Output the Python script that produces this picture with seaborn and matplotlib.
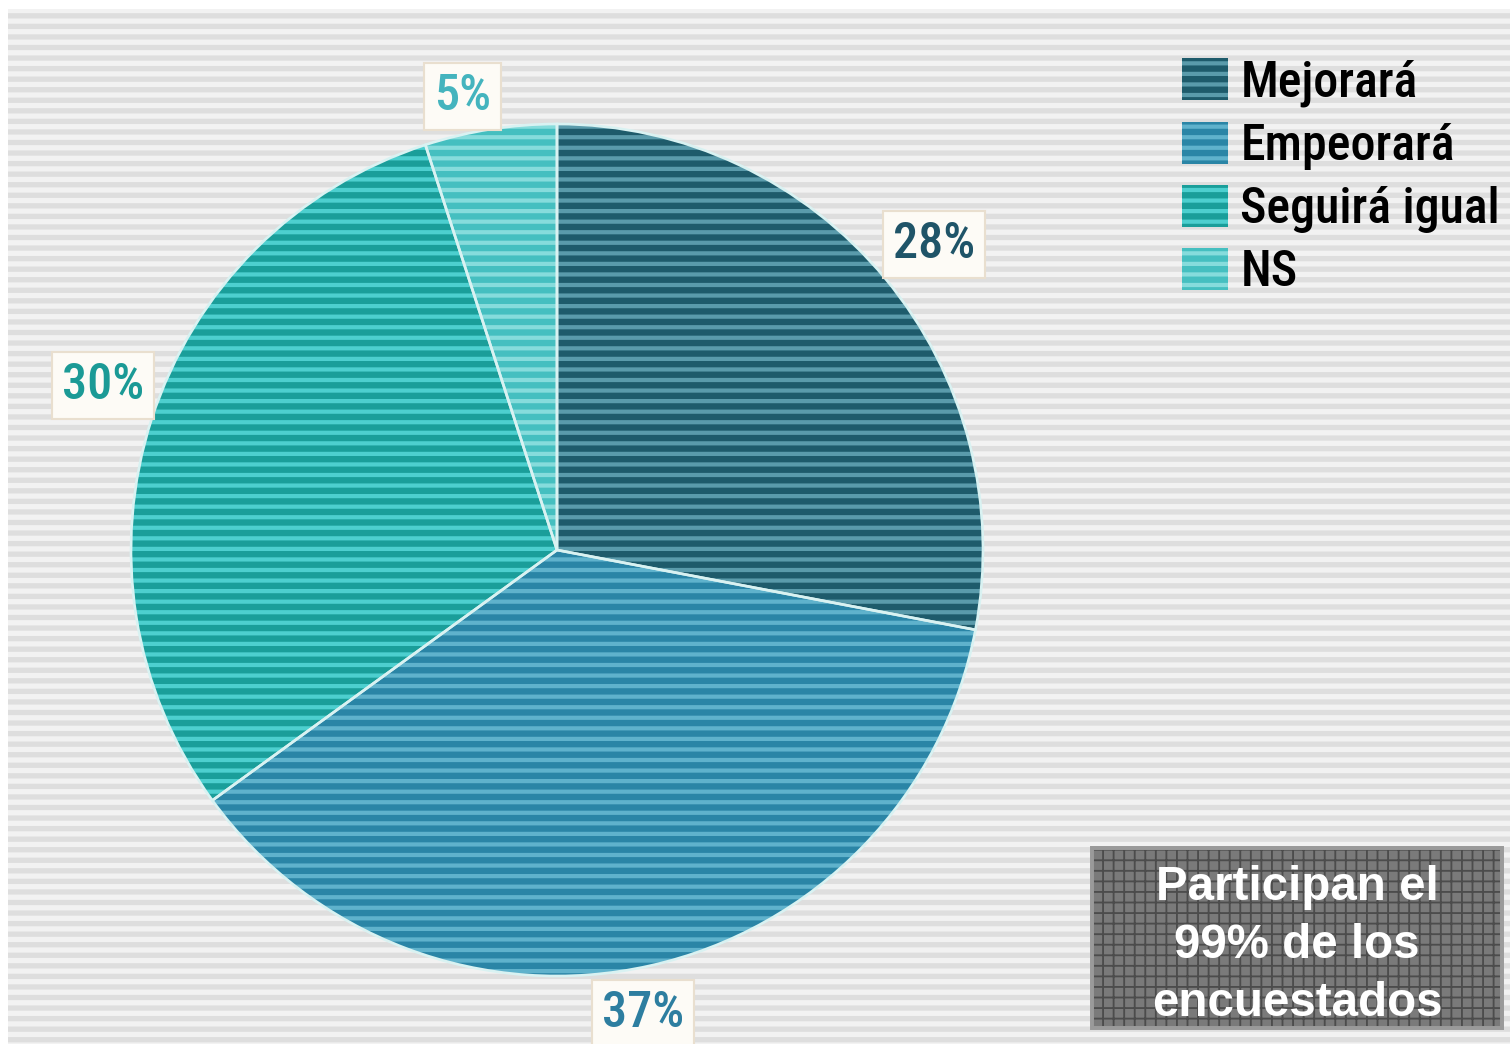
import matplotlib
matplotlib.use("Agg")
import matplotlib.pyplot as plt
from matplotlib import font_manager as fm
from matplotlib.patches import Rectangle, Patch, Wedge
from matplotlib.transforms import ScaledTranslation
import seaborn as sns

# Survey answers and their shares (%)
categories = ["Mejorará", "Empeorará", "Seguirá igual", "NS"]
shares = [28, 37, 30, 5]

# Striped fills: dark band + light band per answer
stripe_dark = ["#1e5b6b", "#2a85a6", "#1a9e9a", "#45bfc0"]
stripe_light = ["#5a9bab", "#5fb2cc", "#4dcfcf", "#86dcdc"]
label_colors = ["#1f5468", "#2d7ea0", "#1b9a96", "#44b4be"]

note_lines = ["Participan el", "99% de los", "encuestados"]

sns.set_theme(style="white")


def narrow_font_file():
    """Pick an installed narrow/condensed sans face, preferring medium weight."""
    best = None
    for f in fm.fontManager.ttflist:
        n = f.fname.lower().replace("_", "").replace(" ", "")
        if any(k in n for k in ("oblique", "italic", "mono", "serif", "light",
                                "thin", "black", "extra", "ultra", "semicond",
                                "cjk", "display")):
            continue
        if not ("narrow" in n or "condensed" in n):
            continue
        score = 0
        if "liberation" in n:
            score -= 6
        elif "roboto" in n:
            score -= 5
        elif "notosans" in n:
            score -= 4
        elif "opensans" in n:
            score -= 3
        if "medium" in n:
            score -= 1
        elif "semibold" in n:
            score += 0.5
        elif "bold" in n:
            score += 2
        if best is None or score < best[0]:
            best = (score, f.fname)
    return best[1] if best else None


NARROW_FILE = narrow_font_file()


def narrow(size):
    if NARROW_FILE:
        return fm.FontProperties(fname=NARROW_FILE, size=size)
    return fm.FontProperties(family="Roboto", size=size)


DPI = 190
W, H = 1510, 1044
fig = plt.figure(figsize=(W / DPI, H / DPI), dpi=DPI)
fig.patch.set_facecolor("white")
renderer = fig.canvas.get_renderer()


def fit_size(prop_fn, text, target_px, start, cap):
    """Font size (pt) at which `text` spans about target_px pixels."""
    t = fig.text(0, 0, text, fontproperties=prop_fn(start))
    width = t.get_window_extent(renderer).width
    t.remove()
    return min(cap, start * target_px / width)


def hatched(patch, lw):
    if hasattr(patch, "set_hatch_linewidth"):
        patch.set_hatch_linewidth(lw)
    return patch


# Striped grey backdrop
plt.rcParams["hatch.linewidth"] = 2.0
bg = Rectangle((8 / W, 0), 1 - 8 / W, 1 - 9 / H, transform=fig.transFigure,
               facecolor="#f2f2f2", edgecolor="#dedede", hatch="---",
               linewidth=0, zorder=0)
fig.add_artist(hatched(bg, 2.0))

# Pie axes: centre and radius in pixels
cx, cy, r = 557, 550, 426
span = 1.25
side = 2 * span * r
ax = fig.add_axes([(cx - side / 2) / W, (H - cy - side / 2) / H, side / W, side / H])
ax.patch.set_alpha(0)

plt.rcParams["hatch.linewidth"] = 2.4
pal_light = sns.color_palette(stripe_light)
wedges, _, autotexts = ax.pie(
    shares, startangle=90, counterclock=False, colors=pal_light,
    autopct=lambda p: f"{round(p)}%", pctdistance=1.12,
    wedgeprops=dict(linewidth=0), frame=False,
)
for w, dark in zip(wedges, stripe_dark):
    w.set_edgecolor(dark)
    w.set_hatch("---")
    w.set_linewidth(0)
    hatched(w, 2.4)

# Thin light separators between slices
for w in wedges:
    ax.add_patch(Wedge(w.center, w.r, w.theta1, w.theta2, fill=False,
                       edgecolor="#d9f2f2", linewidth=1.0, zorder=3))

# Percentage tags, nudged (in pixels, y downwards) off the radial spot
tag_nudge = [(9, -1), (-18, -2), (0, -17), (-20, 18)]
pct_size = fit_size(narrow, "28%", 82, 20, 21)
for t, c, (dx, dy) in zip(autotexts, label_colors, tag_nudge):
    t.set_fontproperties(narrow(pct_size))
    t.set(color=c, zorder=5)
    t.set_transform(ax.transData +
                    ScaledTranslation(dx / DPI, -dy / DPI, fig.dpi_scale_trans))
    t.set_bbox(dict(boxstyle="square,pad=0.2", facecolor="#fdfbf6",
                    edgecolor="#e9dfcf", linewidth=0.8))

ax.set_xlim(-span, span)
ax.set_ylim(-span, span)
ax.axis("off")

# Legend
leg_size = fit_size(narrow, "Seguirá igual", 260, 20, 22)
handles = []
for light, dark in zip(stripe_light, stripe_dark):
    p = Patch(facecolor=light, edgecolor=dark, hatch="---", linewidth=0)
    handles.append(hatched(p, 2.4))
hsize = 46 / (leg_size * DPI / 72)
fig.legend(handles, categories, loc="upper left",
           bbox_to_anchor=(1182 / W, 1 - 58 / H), frameon=False,
           prop=narrow(leg_size), labelcolor="black",
           handlelength=hsize, handleheight=hsize, handletextpad=0.25,
           labelspacing=0.3, borderpad=0, borderaxespad=0)

# Participation note box
plt.rcParams["hatch.linewidth"] = 0.7
x0, y0, x1, y1 = 1092, 848, 1502, 1028
box = Rectangle((x0 / W, 1 - y1 / H), (x1 - x0) / W, (y1 - y0) / H,
                transform=fig.transFigure, facecolor="#7a7a7a",
                edgecolor="#4c4c4c", hatch="+++", linewidth=0, zorder=2)
fig.add_artist(hatched(box, 0.7))
fig.add_artist(Rectangle((x0 / W, 1 - y1 / H), (x1 - x0) / W, (y1 - y0) / H,
                         transform=fig.transFigure, fill=False,
                         edgecolor="#9a9a9a", linewidth=1.5, zorder=3))
for line, base in zip(note_lines, [900, 958, 1016]):
    fig.text((x0 + x1) / 2 / W, 1 - base / H, line, ha="center", va="baseline",
             color="white", fontsize=18, fontweight="bold",
             family=["Liberation Sans", "DejaVu Sans"], zorder=4)

fig.savefig("out.png", dpi=DPI)
